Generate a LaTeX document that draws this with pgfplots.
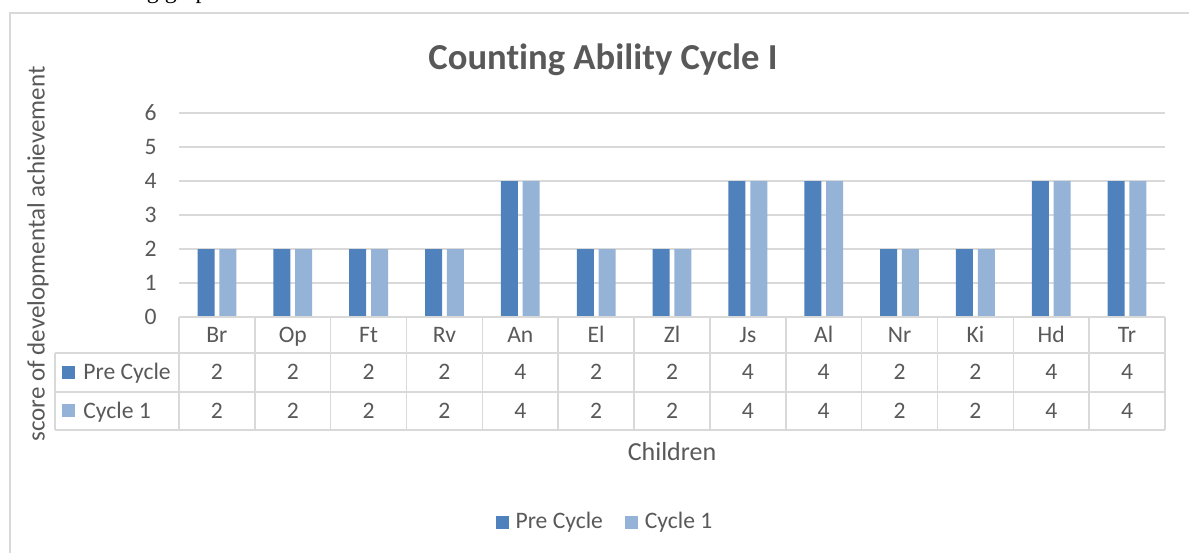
\documentclass[border=0pt]{standalone}
\usepackage{pgfplots}
\pgfplotsset{compat=1.18}
\usepackage{fontspec}
\setmainfont{Carlito}[Ligatures=NoCommon]
\newfontfamily\seriffont{Liberation Serif}
\definecolor{pre}{HTML}{4F81BD}
\definecolor{cyc}{HTML}{95B3D7}
\definecolor{txt}{HTML}{595959}
\definecolor{grd}{HTML}{D9D9D9}
\newcommand{\tabfont}{\fontsize{11.8}{14}\selectfont}
\begin{document}
\begin{tikzpicture}
\useasboundingbox (0,0) rectangle (594.5pt,276pt);
\fill[white] (0,0) rectangle (594.5pt,276pt);
\draw[grd, line width=1pt] (5pt,-10pt) -- (5pt,269.5pt) -- (610pt,269.5pt);
\node[font=\seriffont\fontsize{12}{14}\selectfont, anchor=base east, text=black, inner sep=0pt] at (110pt,276.8pt) {we can see the following graph};
\begin{axis}[
  at={(89.5pt,117.5pt)}, anchor=south west,
  width=493pt, height=102pt, scale only axis,
  xmin=-0.5, xmax=12.5, ymin=0, ymax=6,
  ybar, bar width=8.5pt, ybar=2.4pt,
  axis line style={draw=none},
  ytick={0,1,2,3,4,5,6},
  xtick=\empty,
  ymajorgrids, grid style={grd, line width=0.75pt},
  tick style={draw=none},
  /pgf/number format/assume math mode=true,
  yticklabel style={font=\tabfont, text=txt, anchor=east, inner sep=0pt, xshift=-11pt},
  clip=false,
  legend style={at={(rel axis cs:0.433,-1.005)}, anchor=center, draw=none, fill=none,
    legend columns=2, font=\tabfont, text=txt,
    /tikz/every odd column/.append style={column sep=1.5pt},
    /tikz/every even column/.append style={column sep=9pt}},
  legend image code/.code={\fill[#1] (0pt,-3.25pt) rectangle (6.5pt,3.25pt);},
]
\addplot[fill=pre, draw=none] coordinates {(0,2) (1,2) (2,2) (3,2) (4,4) (5,2) (6,2) (7,4) (8,4) (9,2) (10,2) (11,4) (12,4)};
\addplot[fill=cyc, draw=none] coordinates {(0,2) (1,2) (2,2) (3,2) (4,4) (5,2) (6,2) (7,4) (8,4) (9,2) (10,2) (11,4) (12,4)};
\legend{Pre Cycle, Cycle 1}
\end{axis}
% data table
\begin{scope}[grd, line width=0.75pt]
\draw (89.5pt,117.5pt) -- (582.5pt,117.5pt);
\draw (27.5pt,99.5pt) -- (582.5pt,99.5pt);
\draw (27.5pt,80pt) -- (582.5pt,80pt);
\draw (27.5pt,61pt) -- (582.5pt,61pt);
\draw (27.5pt,99.5pt) -- (27.5pt,61pt);
\foreach \i in {0,...,13} {\draw ({89.5pt+\i*37.923pt},117.5pt) -- ({89.5pt+\i*37.923pt},61pt);}
\end{scope}
\foreach \n [count=\i from 0] in {Br,Op,Ft,Rv,An,El,Zl,Js,Al,Nr,Ki,Hd,Tr}
  {\node[font=\tabfont, text=txt, anchor=base, inner sep=0pt] at ({89.5pt+(\i+0.5)*37.923pt},104.7pt) {\n};}
\foreach \v [count=\i from 0] in {2,2,2,2,4,2,2,4,4,2,2,4,4}
  {\node[font=\tabfont, text=txt, anchor=base, inner sep=0pt] at ({89.5pt+(\i+0.5)*37.923pt},86pt) {\v};}
\foreach \v [count=\i from 0] in {2,2,2,2,4,2,2,4,4,2,2,4,4}
  {\node[font=\tabfont, text=txt, anchor=base, inner sep=0pt] at ({89.5pt+(\i+0.5)*37.923pt},66.7pt) {\v};}
\fill[pre] (31pt,86.5pt) rectangle (37.5pt,93pt);
\fill[cyc] (31pt,67.25pt) rectangle (37.5pt,73.75pt);
\node[font=\tabfont, text=txt, anchor=base west, inner sep=0pt] at (41.5pt,86pt) {Pre Cycle};
\node[font=\tabfont, text=txt, anchor=base west, inner sep=0pt] at (41.5pt,66.7pt) {Cycle 1};
% titles
\node[font=\bfseries\fontsize{18.3}{22}\selectfont, text=txt] at (301.5pt,246pt) {Counting Ability Cycle I};
\node[font=\fontsize{13}{16}\selectfont, text=txt] at (336pt,50pt) {Children};
\node[font=\fontsize{12.5}{15}\selectfont, text=txt, rotate=90] at (19pt,149pt) {score of developmental achievement};
\end{tikzpicture}
\end{document}
